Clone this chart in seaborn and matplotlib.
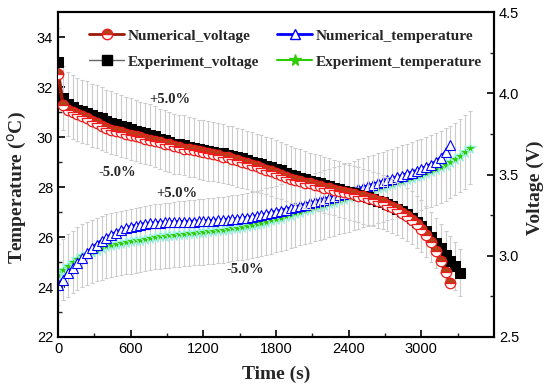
import numpy as np
import seaborn as sns
import matplotlib.pyplot as plt
from matplotlib.lines import Line2D

num_voltage = [
    4.12, 3.93, 3.90, 3.885, 3.875, 3.86, 3.845, 3.83, 3.815, 3.80,
    3.785, 3.775, 3.765, 3.76, 3.75, 3.745, 3.735, 3.73, 3.72, 3.715,
    3.705, 3.70, 3.69, 3.685, 3.675, 3.67, 3.66, 3.655, 3.65, 3.645,
    3.64, 3.63, 3.625, 3.62, 3.61, 3.605, 3.595, 3.59, 3.58, 3.57,
    3.56, 3.55, 3.54, 3.53, 3.52, 3.51, 3.495, 3.485, 3.475, 3.465,
    3.46, 3.45, 3.445, 3.435, 3.43, 3.42, 3.415, 3.405, 3.40, 3.39,
    3.385, 3.38, 3.37, 3.365, 3.355, 3.35, 3.34, 3.33, 3.315, 3.30,
    3.285, 3.265, 3.245, 3.22, 3.195, 3.165, 3.13, 3.085, 3.03, 2.97,
    2.90, 2.83]

exp_voltage = [
    4.19, 3.97, 3.935, 3.915, 3.90, 3.89, 3.88, 3.865, 3.855, 3.845,
    3.83, 3.82, 3.81, 3.80, 3.79, 3.78, 3.77, 3.76, 3.755, 3.745,
    3.735, 3.72, 3.71, 3.70, 3.69, 3.685, 3.68, 3.67, 3.665, 3.655,
    3.65, 3.645, 3.64, 3.635, 3.63, 3.62, 3.615, 3.605, 3.60, 3.59,
    3.58, 3.57, 3.565, 3.555, 3.545, 3.535, 3.525, 3.51, 3.50, 3.49,
    3.48, 3.47, 3.46, 3.455, 3.445, 3.435, 3.43, 3.42, 3.41, 3.40,
    3.39, 3.385, 3.375, 3.365, 3.36, 3.35, 3.34, 3.33, 3.32, 3.305,
    3.29, 3.275, 3.255, 3.235, 3.21, 3.185, 3.15, 3.115, 3.08, 3.045,
    3.005, 2.97, 2.935, 2.895]

num_temp = [
    24.1, 24.3, 24.55, 24.75, 24.95, 25.15, 25.35, 25.55, 25.7, 25.85,
    25.97, 26.08, 26.18, 26.27, 26.35, 26.41, 26.46, 26.5, 26.53, 26.55,
    26.57, 26.58, 26.59, 26.6, 26.6, 26.61, 26.61, 26.62, 26.62, 26.63,
    26.64, 26.65, 26.66, 26.67, 26.68, 26.7, 26.71, 26.73, 26.75, 26.78,
    26.8, 26.84, 26.88, 26.92, 26.97, 27.01, 27.06, 27.1, 27.15, 27.2,
    27.25, 27.3, 27.35, 27.4, 27.45, 27.5, 27.56, 27.62, 27.68, 27.74,
    27.8, 27.86, 27.92, 27.98, 28.04, 28.1, 28.16, 28.21, 28.27, 28.33,
    28.39, 28.45, 28.52, 28.58, 28.65, 28.72, 28.8, 28.9, 29.0, 29.17,
    29.4, 29.68]

exp_temp = [
    24.5, 24.7, 24.86, 25.0, 25.13, 25.25, 25.34, 25.42, 25.5, 25.57,
    25.63, 25.68, 25.72, 25.76, 25.8, 25.83, 25.87, 25.9, 25.94, 25.98,
    26.01, 26.03, 26.05, 26.07, 26.1, 26.12, 26.14, 26.16, 26.18, 26.2,
    26.21, 26.23, 26.25, 26.27, 26.29, 26.32, 26.35, 26.38, 26.41, 26.45,
    26.49, 26.53, 26.57, 26.62, 26.67, 26.72, 26.78, 26.84, 26.9, 26.96,
    27.02, 27.08, 27.13, 27.19, 27.24, 27.3, 27.36, 27.42, 27.48, 27.54,
    27.6, 27.66, 27.72, 27.78, 27.84, 27.89, 27.95, 28.01, 28.07, 28.13,
    28.19, 28.25, 28.32, 28.38, 28.44, 28.5, 28.57, 28.64, 28.72, 28.8,
    28.9, 29.0, 29.12, 29.25, 29.4, 29.58]

STEP = 40
t_nv = STEP * np.arange(len(num_voltage))
t_ev = STEP * np.arange(len(exp_voltage))
t_nt = STEP * np.arange(len(num_temp))
t_et = STEP * np.arange(len(exp_temp))

sns.set_style('ticks')
plt.rcParams['font.family'] = ['Liberation Sans', 'DejaVu Sans']
plt.rcParams['xtick.direction'] = 'in'
plt.rcParams['ytick.direction'] = 'in'

serif_bold = dict(family=['Liberation Serif', 'DejaVu Serif'], weight='bold')

fig = plt.figure(figsize=(5.5, 3.9), dpi=100)
ax = fig.add_axes([0.1055, 0.1359, 0.7927, 0.8333])
ax2 = ax.twinx()

grey = '#cccccc'

red_line, red_face, red_edge = '#9a1a05', '#b0441a', '#ee1c1c'
green = '#2ecc00'

# temperature (left axis)
et = np.array(exp_temp)
ax.errorbar(t_et, et, yerr=0.05 * et, fmt='none', ecolor=grey,
            elinewidth=0.8, capsize=1.5, capthick=0.8, zorder=1)
sns.lineplot(x=t_et, y=et, ax=ax, color=green, lw=1.5, marker='*',
             markersize=8.5, markerfacecolor=green, markeredgecolor='#9ff2e8',
             markeredgewidth=0.8, legend=False, zorder=3)
sns.lineplot(x=t_nt, y=num_temp, ax=ax, color='#0000ff', lw=2.5, marker='^',
             markersize=6.5, markerfacecolor='white', markeredgecolor='#0000ff',
             markeredgewidth=0.8, legend=False, zorder=4)

# voltage (right axis)
ev = np.array(exp_voltage)
ax2.errorbar(t_ev, ev, yerr=0.05 * ev, fmt='none', ecolor=grey,
             elinewidth=0.8, capsize=1.5, capthick=0.8, zorder=1)
sns.lineplot(x=t_ev, y=ev, ax=ax2, color='#666666', lw=1.0, marker='s',
             markersize=6.5, markerfacecolor='black', markeredgecolor='black',
             legend=False, zorder=3)
sns.lineplot(x=t_nv, y=num_voltage, ax=ax2, color=red_line, lw=2.5, marker='o',
             markersize=7.5, fillstyle='top', markerfacecolor=red_face,
             markerfacecoloralt='white', markeredgecolor=red_edge,
             markeredgewidth=0.9, legend=False, zorder=4)

ax.set_xlim(0, 3600)
ax.set_ylim(22, 35)
ax2.set_ylim(2.5, 4.5)
ax.set_xticks([0, 600, 1200, 1800, 2400, 3000])
ax.set_xticks([300, 900, 1500, 2100, 2700, 3300], minor=True)
ax.set_yticks([22, 24, 26, 28, 30, 32, 34])
ax.set_yticks([23, 25, 27, 29, 31, 33], minor=True)
ax2.set_yticks([2.5, 3.0, 3.5, 4.0, 4.5])
ax2.set_yticks([2.75, 3.25, 3.75, 4.25], minor=True)
ax2.set_yticklabels(['2.5', '3.0', '3.5', '4.0', '4.5'])

for a in (ax, ax2):
    a.tick_params(which='major', length=5, width=1.2, labelsize=10.5, colors='black')
    a.tick_params(which='minor', length=3, width=1.0)
    for s in a.spines.values():
        s.set_linewidth(1.5)
        s.set_color('black')
ax.tick_params(axis='x', top=False, which='both')
ax.tick_params(axis='y', right=False, which='both')

ax.set_xlabel('Time (s)', fontsize=14, labelpad=7, **serif_bold)
ax.set_ylabel('Temperature ($^{\\rm o}$C)', fontsize=14, **serif_bold)
ax2.set_ylabel('Voltage (V)', fontsize=14, **serif_bold)
for lab in (ax.yaxis.label, ax2.yaxis.label):
    lab.set_verticalalignment('center')
    lab.set_horizontalalignment('center')
ax.yaxis.set_label_coords(-0.093, 0.46)
ax2.yaxis.set_label_coords(1.095, 0.46)

ann = dict(fontsize=10.5, ha='center', va='center', **serif_bold)
ax.text(924, 31.52, '+5.0%', **ann)
ax.text(487, 28.6, '-5.0%', **ann)
ax.text(982, 27.76, '+5.0%', **ann)
ax.text(1543, 24.72, '-5.0%', **ann)

handles = [
    Line2D([], [], color=red_line, lw=2.0, marker='o', markersize=7.5, fillstyle='top',
           markerfacecolor=red_face, markerfacecoloralt='white',
           markeredgecolor=red_edge),
    Line2D([], [], color='#666666', lw=1.0, marker='s', markersize=6.5,
           markerfacecolor='black', markeredgecolor='black'),
    Line2D([], [], color='#0000ff', lw=2.0, marker='^', markersize=6.5,
           markerfacecolor='white', markeredgecolor='#0000ff'),
    Line2D([], [], color=green, lw=1.5, marker='*', markersize=8.5,
           markerfacecolor=green, markeredgecolor=green),
]
labels = ['Numerical_voltage', 'Experiment_voltage',
          'Numerical_temperature', 'Experiment_temperature']
ax2.legend(handles, labels, ncol=2, loc='upper left', bbox_to_anchor=(0.04, 0.99),
           frameon=False, handlelength=2.3, handletextpad=0.2, columnspacing=1.2,
           labelspacing=0.8, prop=dict(family=['Liberation Serif', 'DejaVu Serif'],
                                       weight='bold', size=11))

fig.savefig('out.png', dpi=100)
